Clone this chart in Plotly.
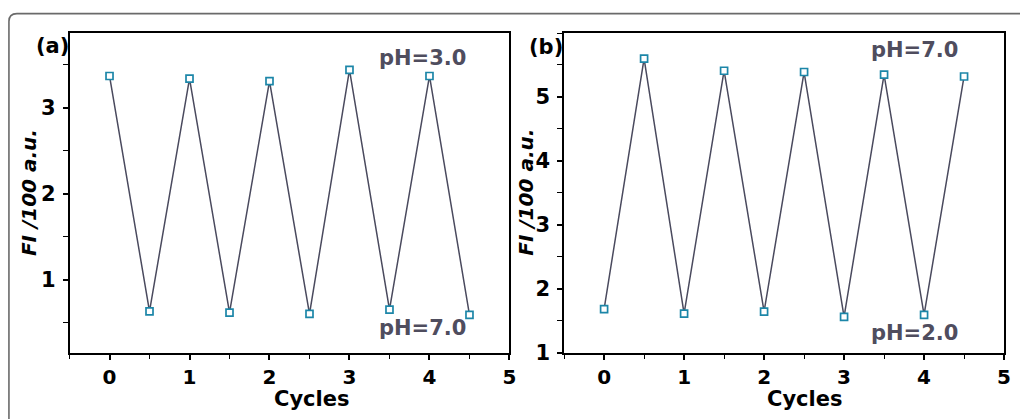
import plotly.graph_objects as go

# ---- data ----
cycles = [0, 0.5, 1, 1.5, 2, 2.5, 3, 3.5, 4, 4.5]
fi_a = [3.37, 0.63, 3.34, 0.615, 3.31, 0.60, 3.44, 0.65, 3.37, 0.59]   # pH 3.0 <-> 7.0
cycles_b = [0, 0.5, 1, 1.5, 2, 2.5, 3, 3.5, 4, 4.5]
fi_b = [1.68, 5.60, 1.61, 5.41, 1.64, 5.39, 1.56, 5.35, 1.59, 5.32]    # pH 2.0 <-> 7.0
x_ticks = [0, 1, 2, 3, 4, 5]
y_ticks_a = [1, 2, 3]
y_ticks_b = [1, 2, 3, 4, 5]

W, H = 1020, 419
FONT = "DejaVu Sans"
LINE_C = "#4a4a5e"
MARK_C = "#1c86a8"
PH_C = "#4f4d5e"

def px(x):
    return x / W

def py(y):
    return 1 - y / H

fig = go.Figure()
for xs, ys, xa, ya in [(cycles, fi_a, "x", "y"), (cycles_b, fi_b, "x2", "y2")]:
    fig.add_trace(go.Scatter(
        x=xs, y=ys, xaxis=xa, yaxis=ya, mode="lines+markers",
        line=dict(color=LINE_C, width=1.5),
        marker=dict(symbol="square", size=7, color="white",
                    line=dict(color=MARK_C, width=1.7)),
        showlegend=False, cliponaxis=False,
    ))

tickfont = dict(family=FONT, size=21, color="black", weight="bold")
common_x = dict(range=[-0.5, 5], tickvals=x_ticks, ticks="outside", ticklen=6,
                tickwidth=1.5, tickcolor="black", showline=True, mirror=True,
                linecolor="black", linewidth=1.5, showgrid=False, zeroline=False,
                tickfont=dict(family=FONT, size=20, color="black", weight="bold"),
                ticklabelstandoff=0,
                minor=dict(dtick=0.5, tick0=0, ticks="outside", ticklen=5,
                           tickwidth=1.2, tickcolor="black"))
common_y = dict(ticks="outside", ticklen=5, tickwidth=1.5, tickcolor="black",
                showline=True, mirror=True, linecolor="black", linewidth=1.5,
                showgrid=False, zeroline=False, tickfont=tickfont,
                ticklabelstandoff=3,
                minor=dict(dtick=0.5, tick0=0, ticks="outside", ticklen=5,
                           tickwidth=1.2, tickcolor="black"))

y_top, y_bot = py(34), py(363)
fig.update_layout(
    width=W, height=H, margin=dict(l=0, r=0, t=0, b=0),
    paper_bgcolor="white", plot_bgcolor="white",
    xaxis=dict(domain=[px(70), px(513)], anchor="y", **common_x),
    yaxis=dict(domain=[y_bot, y_top], anchor="x", range=[0.15, 3.87],
               tickvals=y_ticks_a, **common_y),
    xaxis2=dict(domain=[px(568), px(1011)], anchor="y2", **common_x),
    yaxis2=dict(domain=[y_bot, y_top], anchor="x2", range=[1, 6],
                tickvals=y_ticks_b, **common_y),
)

ann = []
def add_text(text, x, y, size, color="black", angle=0, italic=False, yanchor="middle"):
    ann.append(dict(text=text, x=px(x), y=py(y), xref="paper", yref="paper",
                    xanchor="center", yanchor=yanchor, showarrow=False,
                    textangle=angle, borderpad=0,
                    font=dict(family=FONT, size=size, color=color, weight="bold",
                              style="italic" if italic else "normal")))

add_text("(a)", 53, 47, 21)
add_text("(b)", 550, 48, 21)
add_text("pH=3.0", 425, 60, 21, PH_C)
add_text("pH=7.0", 425, 338, 21, PH_C)
add_text("pH=7.0", 921, 51, 21, PH_C)
add_text("pH=2.0", 921, 343, 21, PH_C)
add_text("Cycles", 314, 424, 21, yanchor="bottom")
add_text("Cycles", 811, 424, 21, yanchor="bottom")
add_text("FI /100 a.u.", 30, 198, 20, angle=-90, italic=True)
add_text("FI /100 a.u.", 530, 198, 20, angle=-90, italic=True)
fig.update_layout(annotations=ann)

# outer rounded frame (top-left corner visible)
rx, ry = 8 / W, 8 / H
x0, y0 = px(9), py(14)
fig.add_shape(type="path", xref="paper", yref="paper",
              path=f"M {x0},-0.05 L {x0},{y0 - ry} Q {x0},{y0} {x0 + rx},{y0} L 1.05,{y0}",
              line=dict(color="#6a6a6a", width=1.6))

fig.write_html("out.html")
